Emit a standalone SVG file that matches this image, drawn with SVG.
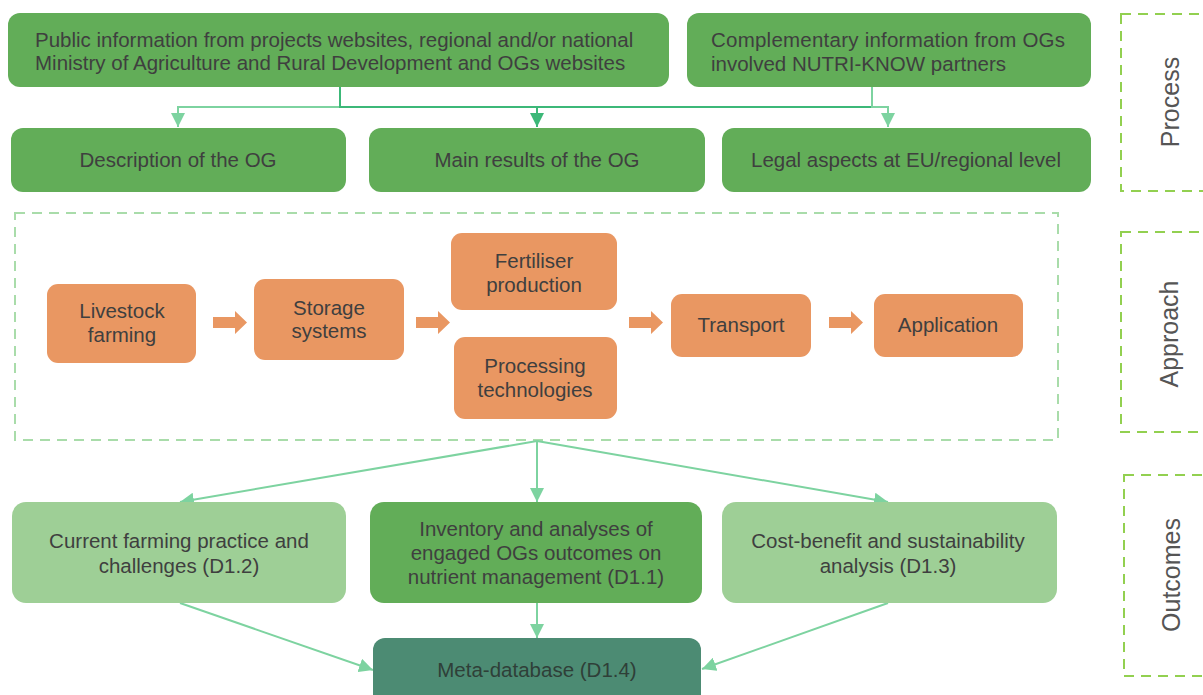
<svg xmlns="http://www.w3.org/2000/svg" width="1203" height="695" viewBox="0 0 1203 695">
<defs>
<style>
.t{font-family:"Liberation Sans",Arial,sans-serif;font-size:20.5px;fill:#3f3f3f}
.m{text-anchor:middle}
.lbl{font-family:"Liberation Sans",Arial,sans-serif;font-size:25px;fill:#555;text-anchor:middle}
.g{fill:#62ad58}
.lg{fill:#9ecf96}
.or{fill:#e99762}
.teal{fill:#4c8b73}
.frame{fill:none;stroke:#92d050;stroke-width:2;stroke-dasharray:10 7}
.appr{fill:none;stroke:#a9dcaa;stroke-width:2;stroke-dasharray:10 7}
.c{fill:none;stroke:#7dd3a0;stroke-width:2}
.cd{fill:none;stroke:#3cb878;stroke-width:2}
.ba{fill:#e99762}
</style>
<marker id="ah" viewBox="0 0 14 14" refX="14" refY="7" markerWidth="14" markerHeight="14" markerUnits="userSpaceOnUse" orient="auto">
<path d="M0,0 L14,7 L0,14 Z" fill="#7dd3a0"/>
</marker>
<marker id="ahd" viewBox="0 0 14 14" refX="14" refY="7" markerWidth="14" markerHeight="14" markerUnits="userSpaceOnUse" orient="auto">
<path d="M0,0 L14,7 L0,14 Z" fill="#3cb878"/>
</marker>
</defs>
<rect width="1203" height="695" fill="#ffffff"/>

<g id="frames">
<rect class="frame" x="1121" y="14" width="100" height="177"/>
<rect class="frame" x="1121" y="232" width="100" height="200"/>
<rect class="frame" x="1124" y="475" width="100" height="201"/>
<rect class="appr" x="15" y="213" width="1043" height="227"/>
<text class="lbl" transform="translate(1179,102) rotate(-90)">Process</text>
<text class="lbl" transform="translate(1178,334) rotate(-90)">Approach</text>
<text class="lbl" transform="translate(1180,575) rotate(-90)">Outcomes</text>
</g>

<g id="connectors">
<path class="c" d="M340,107 H178 V127" marker-end="url(#ah)"/>
<path class="cd" d="M340,87 V107 H872"/>
<path class="cd" d="M537,107 V127" marker-end="url(#ahd)"/>
<path class="c" d="M872,87 V107 H888 V127" marker-end="url(#ah)"/>
<path class="c" d="M537,441 L180,502" marker-end="url(#ah)"/>
<path class="c" d="M537,441 V502" marker-end="url(#ah)"/>
<path class="c" d="M537,441 L888,502" marker-end="url(#ah)"/>
<path class="c" d="M180,603 L373,670" marker-end="url(#ah)"/>
<path class="c" d="M537,603 V638" marker-end="url(#ah)"/>
<path class="c" d="M888,603 L702,669" marker-end="url(#ah)"/>
<path class="ba" d="M213,317 H235 V311 L247,322.5 L235,334 V328 H213 Z"/>
<path class="ba" d="M416,317 H438 V311 L450,322.5 L438,334 V328 H416 Z"/>
<path class="ba" d="M629,317 H651 V311 L663,322.5 L651,334 V328 H629 Z"/>
<path class="ba" d="M829,317 H851 V311 L863,322.5 L851,334 V328 H829 Z"/>
</g>

<g id="public-info">
<rect class="g" x="8" y="13" width="661" height="74" rx="12"/>
<text class="t" x="35" y="47">Public information from projects websites, regional and/or national</text>
<text class="t" x="35" y="70">Ministry of Agriculture and Rural Development and OGs websites</text>
</g>
<g id="complementary-info">
<rect class="g" x="687" y="13" width="404" height="74" rx="12"/>
<text class="t" x="711" y="47" textLength="354" lengthAdjust="spacing">Complementary information from OGs</text>
<text class="t" x="711" y="71">involved NUTRI-KNOW partners</text>
</g>
<g id="description">
<rect class="g" x="11" y="128" width="335" height="64" rx="12"/>
<text class="t m" x="178" y="167">Description of the OG</text>
</g>
<g id="main-results">
<rect class="g" x="369" y="128" width="336" height="64" rx="12"/>
<text class="t m" x="537" y="167">Main results of the OG</text>
</g>
<g id="legal-aspects">
<rect class="g" x="722" y="128" width="369" height="64" rx="12"/>
<text class="t m" x="906" y="167">Legal aspects at EU/regional level</text>
</g>

<g id="livestock">
<rect class="or" x="47" y="284" width="149" height="79" rx="11"/>
<text class="t m" x="122" y="318">Livestock</text>
<text class="t m" x="122" y="342">farming</text>
</g>
<g id="storage">
<rect class="or" x="254" y="279" width="150" height="81" rx="11"/>
<text class="t m" x="329" y="315">Storage</text>
<text class="t m" x="329" y="338">systems</text>
</g>
<g id="fertiliser">
<rect class="or" x="451" y="233" width="166" height="77" rx="11"/>
<text class="t m" x="534" y="268">Fertiliser</text>
<text class="t m" x="534" y="292">production</text>
</g>
<g id="processing">
<rect class="or" x="454" y="337" width="163" height="82" rx="11"/>
<text class="t m" x="535" y="373">Processing</text>
<text class="t m" x="535" y="397">technologies</text>
</g>
<g id="transport">
<rect class="or" x="671" y="294" width="140" height="63" rx="11"/>
<text class="t m" x="741" y="332">Transport</text>
</g>
<g id="application">
<rect class="or" x="874" y="294" width="149" height="63" rx="11"/>
<text class="t m" x="948" y="332">Application</text>
</g>

<g id="current-farming">
<rect class="lg" x="12" y="502" width="334" height="101" rx="14"/>
<text class="t m" x="179" y="548">Current farming practice and</text>
<text class="t m" x="179" y="573">challenges (D1.2)</text>
</g>
<g id="inventory">
<rect class="g" x="370" y="502" width="332" height="101" rx="14"/>
<text class="t m" x="536" y="536">Inventory and analyses of</text>
<text class="t m" x="536" y="560">engaged OGs outcomes on</text>
<text class="t m" x="536" y="584">nutrient management (D1.1)</text>
</g>
<g id="cost-benefit">
<rect class="lg" x="722" y="502" width="335" height="101" rx="14"/>
<text class="t m" x="888" y="548">Cost-benefit and sustainability</text>
<text class="t m" x="888" y="573">analysis (D1.3)</text>
</g>
<g id="meta-database">
<rect class="teal" x="373" y="638" width="328" height="70" rx="12"/>
<text class="t m" x="537" y="677" style="fill:#2f3f38">Meta-database (D1.4)</text>
</g>
</svg>
